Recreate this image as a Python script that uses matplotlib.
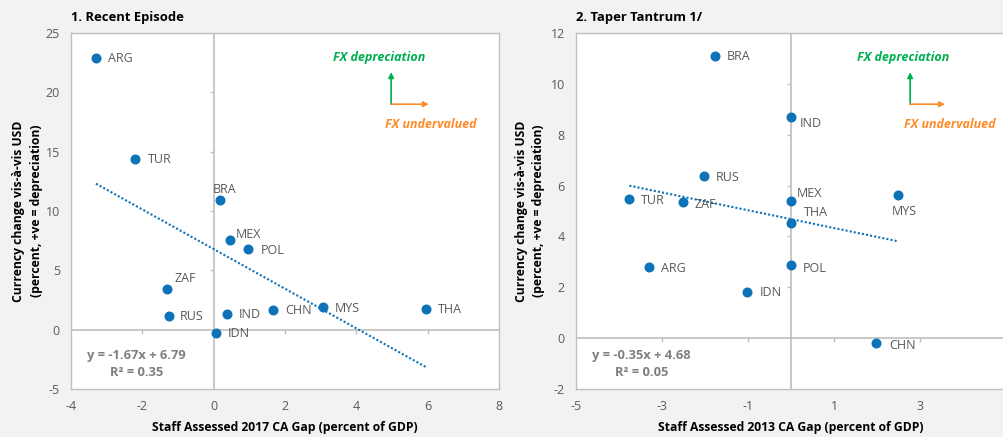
import numpy as np
import matplotlib
matplotlib.use("Agg")
import matplotlib.pyplot as plt
from matplotlib.lines import TICKDOWN, TICKLEFT

plt.rcParams['font.family'] = ['Open Sans', 'DejaVu Sans']
plt.rcParams['axes.unicode_minus'] = False

# ---------------- data ----------------
countries1 = ["ARG", "TUR", "BRA", "MEX", "POL", "ZAF", "RUS", "IND", "CHN", "MYS", "THA", "IDN"]
gap1 = [-3.30, -2.21, 0.18, 0.46, 0.96, -1.31, -1.25, 0.37, 1.66, 3.06, 5.95, 0.07]
fx1 = [22.9, 14.4, 10.93, 7.56, 6.8, 3.43, 1.16, 1.33, 1.66, 1.92, 1.75, -0.27]
slope1, intercept1 = -1.67, 6.79
eq1 = ["y = -1.67x + 6.79", "R² = 0.35"]

countries2 = ["BRA", "IND", "RUS", "TUR", "ZAF", "MEX", "MYS", "THA", "ARG", "POL", "IDN", "CHN"]
gap2 = [-1.77, 0.0, -2.02, -3.76, -2.52, 0.0, 2.48, 0.0, -3.31, 0.0, -1.02, 1.98]
fx2 = [11.1, 8.68, 6.39, 5.46, 5.34, 5.39, 5.62, 4.52, 2.8, 2.87, 1.82, -0.18]
slope2, intercept2 = -0.35, 4.68
eq2 = ["y = -0.35x + 4.68", "R² = 0.05"]

xticks1 = [-4, -2, 0, 2, 4, 6, 8]
yticks1 = [-5, 0, 5, 10, 15, 20, 25]
xticks2 = [-5, -3, -1, 1, 3, 5]
yticks2 = [-2, 0, 2, 4, 6, 8, 10, 12]

titles = ["1. Recent Episode", "2. Taper Tantrum 1/"]
xlabels = ["Staff Assessed 2017 CA Gap (percent of GDP)",
           "Staff Assessed 2013 CA Gap (percent of GDP)"]
ylabel = "Currency change vis-à-vis USD\n(percent, +ve = depreciation)"

# label offsets in pixels (dx, dy, ha)
offs1 = {"ARG": (12, -1, 'left'), "TUR": (13, -1, 'left'), "BRA": (4, 10, 'center'),
         "MEX": (6, 5, 'left'), "POL": (13, -2, 'left'), "ZAF": (8, 10, 'left'),
         "RUS": (11, -1, 'left'), "IND": (12, -1, 'left'), "CHN": (12, -1, 'left'),
         "MYS": (12, -2, 'left'), "THA": (12, -1, 'left'), "IDN": (12, -1, 'left')}
offs2 = {"BRA": (12, -1, 'left'), "IND": (9, -6, 'left'), "RUS": (12, -2, 'left'),
         "TUR": (12, -1, 'left'), "ZAF": (12, -2, 'left'), "MEX": (6, 8, 'left'),
         "MYS": (7, -16, 'center'), "THA": (13, 11, 'left'), "ARG": (12, -2, 'left'),
         "POL": (12, -3, 'left'), "IDN": (13, -1, 'left'), "CHN": (13, -3, 'left')}

# ---------------- style ----------------
W, H = 1004, 437
BG = '#f2f2f2'
GRID = '#bfbfbf'
DOT = '#0e72b8'
LBL = '#595959'
GREEN = '#00b050'
ORANGE = '#ff8c2a'

fig = plt.figure(figsize=(W / 100, H / 100), dpi=100, facecolor=BG)


def make_panel(px_left, px_width, xs, ys, names, offs, xt, yt, slope, icpt, eq,
               title, xlabel, ylab_x, fx_pos):
    ax = fig.add_axes([px_left / W, (H - 389) / H, px_width / W, 356 / H])
    ax.set_facecolor('white')
    ax.set_xlim(xt[0], xt[-1])
    ax.set_ylim(yt[0], yt[-1])
    ax.set_xticks(xt)
    ax.set_yticks(yt)
    ax.tick_params(length=0, labelsize=9, labelcolor=LBL, pad=8)
    for s in ax.spines.values():
        s.set_color(GRID)
        s.set_linewidth(1)
    # zero axes
    ax.axhline(0, color=GRID, lw=1.2, zorder=1)
    ax.axvline(0, color=GRID, lw=1.2, zorder=1)
    inner_x = [v for v in xt[1:-1] if v != 0]
    inner_y = [v for v in yt[1:-1] if v != 0]
    ax.plot(inner_x, np.zeros(len(inner_x)), ls='none', marker=TICKDOWN, ms=3,
            mew=1, color=GRID, zorder=1)
    ax.plot(np.zeros(len(inner_y)), inner_y, ls='none', marker=TICKLEFT, ms=3,
            mew=1, color=GRID, zorder=1)
    # trendline
    xx = np.array([min(xs), max(xs)])
    ax.plot(xx, slope * xx + icpt, color=DOT, lw=1.5, ls=(0, (1, 1)), zorder=2)
    # points
    ax.scatter(xs, ys, s=52, color=DOT, zorder=3, linewidths=0)
    for n, x, y in zip(names, xs, ys):
        dx, dy, ha = offs[n]
        ax.annotate(n, (x, y), xytext=(dx, dy), textcoords='offset pixels',
                    ha=ha, va='center', fontsize=9, color=LBL, zorder=4)
    # equation
    ax.text(0.153, 0.093, eq[0], transform=ax.transAxes, ha='center', va='center',
            fontsize=9.3, fontweight='bold', color='#7f7f7f')
    ax.text(0.153, 0.046, eq[1], transform=ax.transAxes, ha='center', va='center',
            fontsize=9.3, fontweight='bold', color='#7f7f7f')
    # FX annotations
    tx, ox, rx, ux = fx_pos
    ax.text(tx, 0.93, "FX depreciation", transform=ax.transAxes, ha='center',
            va='center', fontsize=9, fontweight='bold', fontstyle='italic', color=GREEN)
    ax.text(ux, 0.742, "FX undervalued", transform=ax.transAxes, ha='center',
            va='center', fontsize=9, fontweight='bold', fontstyle='italic', color=ORANGE)
    ax.annotate('', xy=(ox, 0.89), xytext=(ox, 0.80), xycoords='axes fraction',
                arrowprops=dict(arrowstyle='-|>', color=GREEN, lw=1.2,
                                mutation_scale=8, shrinkA=0, shrinkB=0))
    ax.annotate('', xy=(rx, 0.80), xytext=(ox, 0.80), xycoords='axes fraction',
                arrowprops=dict(arrowstyle='-|>', color=ORANGE, lw=1.2,
                                mutation_scale=8, shrinkA=0, shrinkB=0))
    # titles and labels
    fig.text(px_left / W, 1 - 18 / H, title, ha='left', va='center',
             fontsize=9.4, fontweight='bold', color='black')
    fig.text((px_left + px_width / 2) / W, 1 - 428 / H, xlabel, ha='center',
             va='center', fontsize=8.7, fontweight='bold', color='black')
    fig.text(ylab_x / W, 1 - 211 / H, ylabel, rotation=90, ha='center', va='center',
             multialignment='center', fontsize=8.7, fontweight='bold', color='black',
             linespacing=1.45)
    return ax


make_panel(71, 428, gap1, fx1, countries1, offs1, xticks1, yticks1, slope1,
           intercept1, eq1, titles[0], xlabels[0], 27.5, (0.72, 0.748, 0.836, 0.841))
make_panel(576, 430, gap2, fx2, countries2, offs2, xticks2, yticks2, slope2,
           intercept2, eq2, titles[1], xlabels[1], 530, (0.76, 0.777, 0.858, 0.87))

fig.savefig('out.png', dpi=100, facecolor=BG)
